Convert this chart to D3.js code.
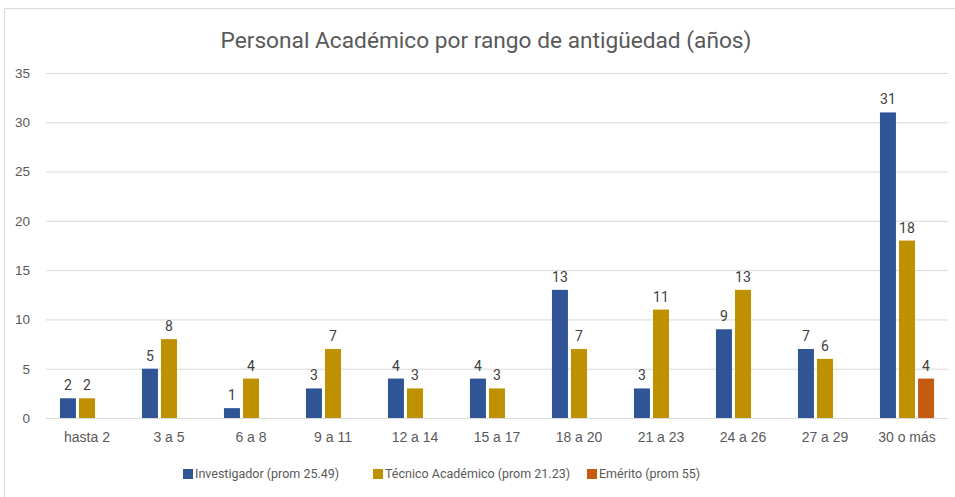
<!DOCTYPE html>
<html>
<head>
<meta charset="utf-8">
<script src="https://cdn.jsdelivr.net/npm/d3@7"></script>
<style>
  body { margin: 0; background: #fff; }
  svg { display: block; font-family: Roboto, "Liberation Sans", sans-serif; }
</style>
</head>
<body>
<svg id="chart"></svg>
<script>
// data
const categories = ['hasta 2', '3 a 5', '6 a 8', '9 a 11', '12 a 14', '15 a 17', '18 a 20', '21 a 23', '24 a 26', '27 a 29', '30 o más'];
const seriesNames = ['Investigador (prom 25.49)', 'Técnico Académico (prom 21.23)', 'Emérito (prom 55)'];
const investigador = [2, 5, 1, 3, 4, 4, 13, 3, 9, 7, 31];
const tecnico = [2, 8, 4, 7, 3, 3, 7, 11, 13, 6, 18];
const emerito = [null, null, null, null, null, null, null, null, null, null, 4];
const yTicks = [0, 5, 10, 15, 20, 25, 30, 35];

// base setting
const width = 955;
const height = 497;
const colors = ['#2F5597', '#BF9000', '#C55A11'];
const textColor = '#595959';
const margin = { top: 73, right: 7, bottom: 79, left: 46 };

const svg = d3.select('#chart').attr('width', width).attr('height', height);

// chart frame (only top and left edges are in view)
svg.append('path')
  .attr('d', `M4.5,${height} V8.5 H${width}`)
  .attr('fill', 'none')
  .attr('stroke', '#D9D9D9')
  .attr('stroke-width', 1);

// title
svg.append('text')
  .attr('x', 486)
  .attr('y', 48)
  .attr('text-anchor', 'middle')
  .attr('fill', textColor)
  .style('font-size', '22.7px')
  .text('Personal Académico por rango de antigüedad (años)');

// x value scaling
const x0 = d3.scaleBand()
  .domain(categories)
  .range([margin.left, width - margin.right])
  .paddingInner(0.34)
  .paddingOuter(0.17);

const x1 = d3.scaleBand()
  .domain(d3.range(3))
  .range([0, x0.bandwidth()])
  .paddingInner(0.16);

// y value scaling
const y = d3.scaleLinear()
  .domain([0, 35])
  .range([height - margin.bottom, margin.top]);

// gridlines
svg.append('g')
  .attr('class', 'grid')
  .attr('transform', `translate(${margin.left},0)`)
  .call(d3.axisLeft(y).tickValues(yTicks).tickSize(-(width - margin.left - margin.right)).tickFormat(''))
  .call(g => g.select('.domain').remove())
  .call(g => g.selectAll('line').attr('stroke', '#D9D9D9'));

// y axis labels
svg.append('g')
  .attr('transform', `translate(${margin.left},0)`)
  .call(d3.axisLeft(y).tickValues(yTicks).tickSize(0).tickPadding(16))
  .call(g => g.select('.domain').remove())
  .call(g => g.selectAll('text').attr('fill', textColor).style('font-size', '13.5px'));

// bars
const allSeries = [investigador, tecnico, emerito];
const groups = svg.append('g')
  .selectAll('g')
  .data(categories)
  .join('g')
  .attr('transform', d => `translate(${x0(d)},0)`);

const cells = groups.selectAll('g')
  .data((d, i) => allSeries.map((s, k) => ({ k, value: s[i] })).filter(e => e.value != null))
  .join('g');

cells.append('rect')
  .attr('x', d => x1(d.k))
  .attr('y', d => y(d.value))
  .attr('width', x1.bandwidth())
  .attr('height', d => y(0) - y(d.value))
  .attr('fill', d => colors[d.k]);

cells.append('text')
  .attr('x', d => x1(d.k) + x1.bandwidth() / 2)
  .attr('y', d => y(d.value) - 8)
  .attr('text-anchor', 'middle')
  .attr('fill', '#404040')
  .style('font-size', '14px')
  .text(d => d.value);

// x axis baseline
svg.append('line')
  .attr('x1', margin.left)
  .attr('x2', width - margin.right)
  .attr('y1', y(0) + 0.5)
  .attr('y2', y(0) + 0.5)
  .attr('stroke', '#D9D9D9');

// x axis labels
svg.append('g')
  .attr('transform', `translate(0,${y(0)})`)
  .call(d3.axisBottom(x0).tickSize(0).tickPadding(14))
  .call(g => g.select('.domain').remove())
  .call(g => g.selectAll('text').attr('fill', textColor).style('font-size', '14px'));

// legend
const legendX = [183, 373, 587];
const legend = svg.append('g')
  .selectAll('g')
  .data(seriesNames)
  .join('g')
  .attr('transform', (d, i) => `translate(${legendX[i]},474)`);

legend.append('rect')
  .attr('x', 0)
  .attr('y', -5)
  .attr('width', 10)
  .attr('height', 10)
  .attr('fill', (d, i) => colors[i]);

legend.append('text')
  .attr('x', 12)
  .attr('y', 0)
  .attr('dy', '0.35em')
  .attr('fill', textColor)
  .style('font-size', '12.5px')
  .text(d => d);
</script>
</body>
</html>
